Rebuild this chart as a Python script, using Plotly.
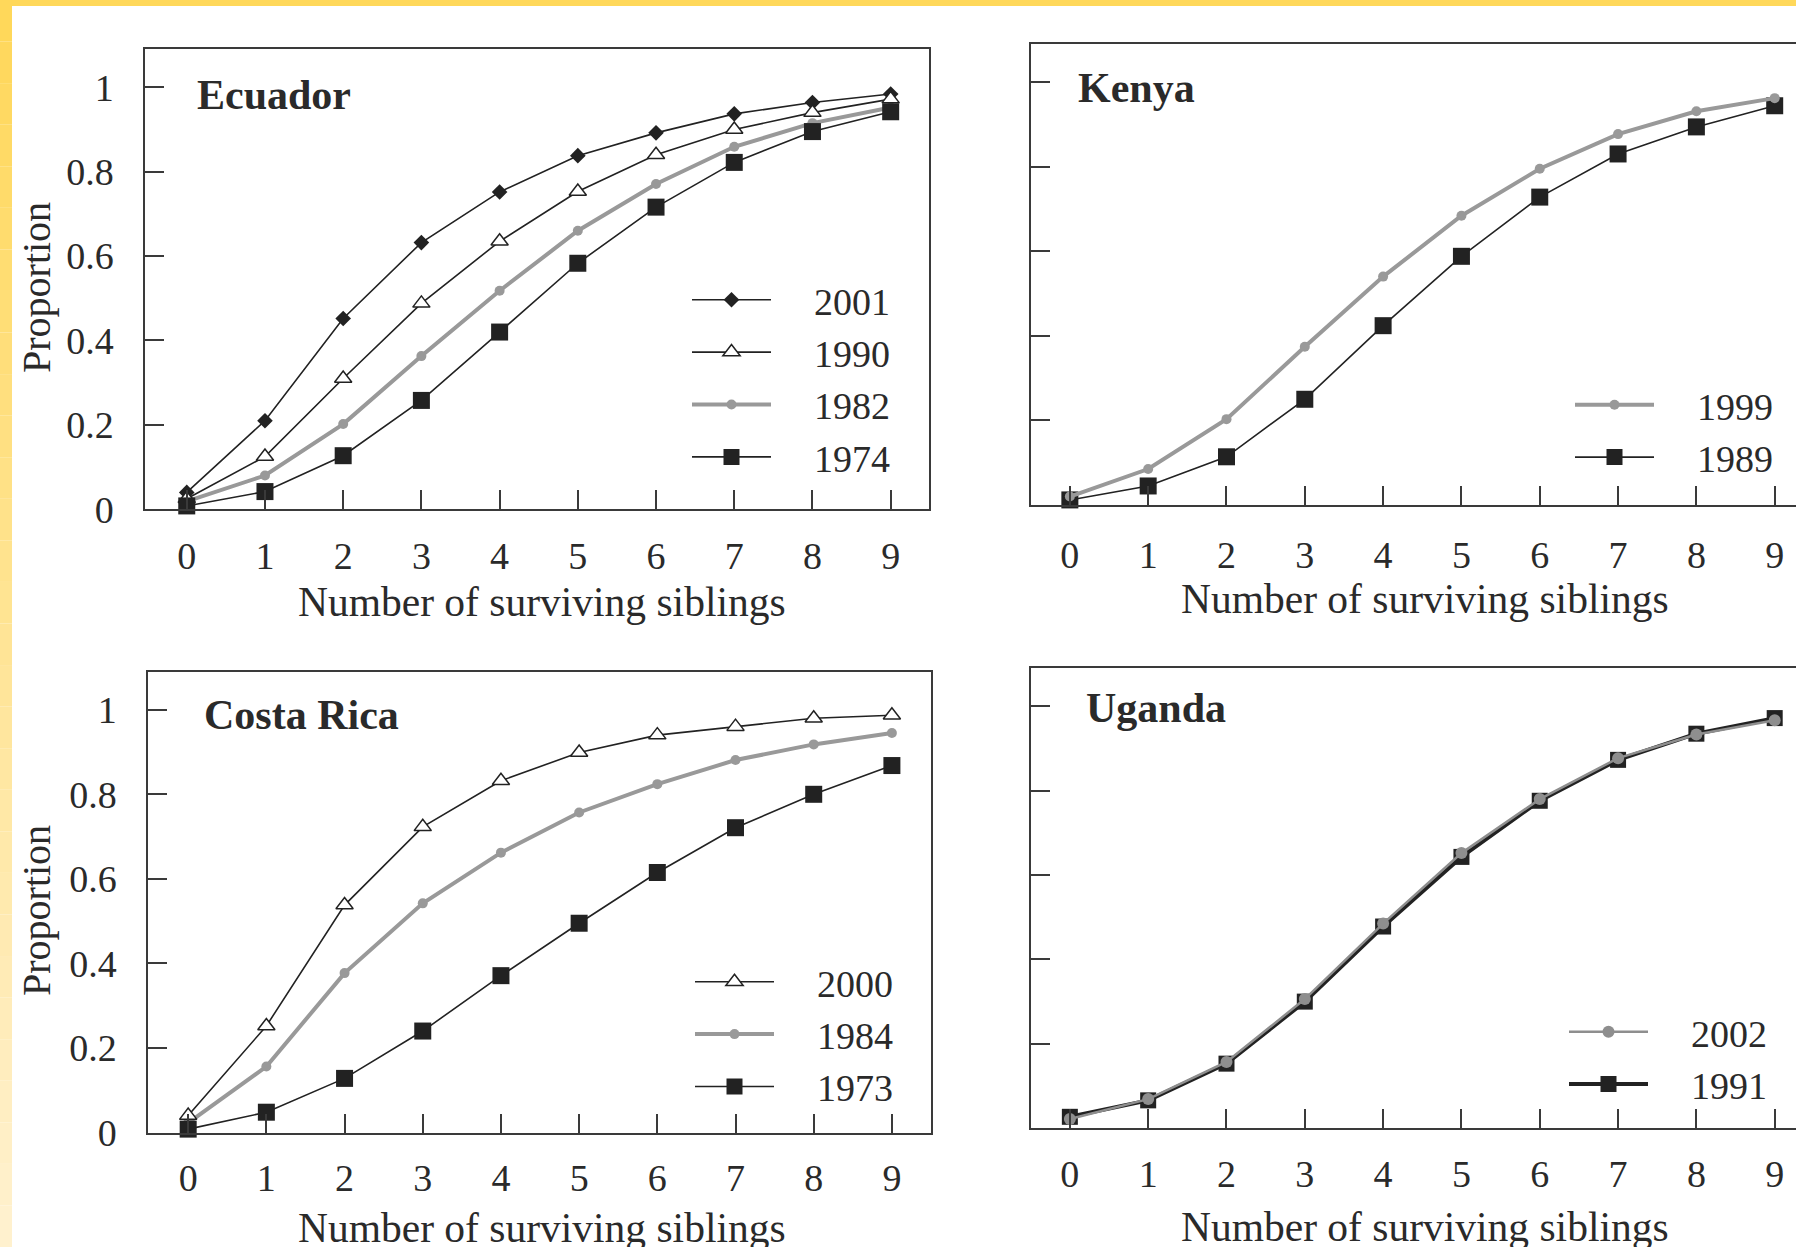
import plotly.graph_objects as go

# ---------------- data ----------------
siblings = [0, 1, 2, 3, 4, 5, 6, 7, 8, 9]
x_tick_labels = ["0", "1", "2", "3", "4", "5", "6", "7", "8", "9"]
y_tick_values = [0, 0.2, 0.4, 0.6, 0.8, 1]
y_tick_labels = ["0", "0.2", "0.4", "0.6", "0.8", "1"]

ecuador_years = ["2001", "1990", "1982", "1974"]
ecuador_2001 = [0.040, 0.210, 0.452, 0.632, 0.752, 0.838, 0.892, 0.937, 0.964, 0.984]
ecuador_1990 = [0.025, 0.125, 0.310, 0.488, 0.635, 0.753, 0.840, 0.900, 0.940, 0.972]
ecuador_1982 = [0.019, 0.080, 0.202, 0.363, 0.518, 0.660, 0.771, 0.859, 0.915, 0.952]
ecuador_1974 = [0.008, 0.042, 0.127, 0.258, 0.420, 0.583, 0.716, 0.822, 0.895, 0.942]

kenya_years = ["1999", "1989"]
kenya_1999 = [0.020, 0.085, 0.203, 0.374, 0.540, 0.684, 0.795, 0.877, 0.931, 0.962]
kenya_1989 = [0.012, 0.045, 0.114, 0.250, 0.424, 0.588, 0.728, 0.830, 0.894, 0.944]

costa_rica_years = ["2000", "1984", "1973"]
costa_rica_2000 = [0.040, 0.252, 0.538, 0.723, 0.832, 0.899, 0.940, 0.960, 0.980, 0.987]
costa_rica_1984 = [0.023, 0.156, 0.377, 0.542, 0.662, 0.757, 0.824, 0.881, 0.918, 0.945]
costa_rica_1973 = [0.008, 0.048, 0.128, 0.240, 0.371, 0.495, 0.615, 0.721, 0.800, 0.868]

uganda_years = ["2002", "1991"]
uganda_2002 = [0.022, 0.069, 0.157, 0.306, 0.485, 0.652, 0.780, 0.877, 0.933, 0.967]
uganda_1991 = [0.027, 0.066, 0.153, 0.300, 0.478, 0.643, 0.776, 0.873, 0.935, 0.972]

panel_titles = ["Ecuador", "Kenya", "Costa Rica", "Uganda"]
x_title = "Number of surviving siblings"
y_title = "Proportion"

# ---------------- styles ----------------
W, H = 1796, 1247
FONT = "Liberation Serif"
TXT = "#2a2a2a"
BLACK = "#222222"
GRAY = "#999999"
AX = "#3a3a3a"
PAD = "\u00a0\u00a0\u00a0\u00a0"

STY = {
    "diamond": dict(line=dict(color=BLACK, width=1.6),
                    marker=dict(symbol="diamond", size=12, color=BLACK)),
    "triangle": dict(line=dict(color=BLACK, width=1.6),
                     marker=dict(symbol="triangle-up", size=15, color="white",
                                 line=dict(color=BLACK, width=1.5))),
    "gray": dict(line=dict(color=GRAY, width=4),
                 marker=dict(symbol="circle", size=10, color=GRAY)),
    "square": dict(line=dict(color=BLACK, width=1.6),
                   marker=dict(symbol="square", size=17, color=BLACK)),
    "ug_gray": dict(line=dict(color="#8e8e8e", width=2.5),
                    marker=dict(symbol="circle", size=12, color="#8e8e8e")),
    "ug_square": dict(line=dict(color=BLACK, width=4),
                      marker=dict(symbol="square", size=16, color=BLACK)),
}

fig = go.Figure()


def add(y, name, style, ax, legend, rank):
    s = STY[style]
    fig.add_trace(go.Scatter(
        x=siblings, y=y, name=PAD + name, mode="lines+markers",
        line=s["line"], marker=s["marker"], cliponaxis=False,
        xaxis="x" + ax, yaxis="y" + ax, legend=legend, legendrank=rank,
    ))


# Ecuador
add(ecuador_1982, ecuador_years[2], "gray", "", "legend", 3)
add(ecuador_2001, ecuador_years[0], "diamond", "", "legend", 1)
add(ecuador_1990, ecuador_years[1], "triangle", "", "legend", 2)
add(ecuador_1974, ecuador_years[3], "square", "", "legend", 4)
# Kenya
add(kenya_1989, kenya_years[1], "square", "2", "legend2", 2)
add(kenya_1999, kenya_years[0], "gray", "2", "legend2", 1)
# Costa Rica
add(costa_rica_1984, costa_rica_years[1], "gray", "3", "legend3", 2)
add(costa_rica_2000, costa_rica_years[0], "triangle", "3", "legend3", 1)
add(costa_rica_1973, costa_rica_years[2], "square", "3", "legend3", 3)
# Uganda
add(uganda_1991, uganda_years[1], "ug_square", "4", "legend4", 2)
add(uganda_2002, uganda_years[0], "ug_gray", "4", "legend4", 1)


def px_x(p):
    return p / W


def px_y(p):
    return 1 - p / H


# panel geometry (pixels): left, right, top, bottom, x-range, tick-label standoff
panels = [
    dict(l=145.3, r=929.0, t=49.3, b=509.3, xr=[-0.53, 9.49], left=True, so=12),
    dict(l=1030.7, r=1796.0, t=44.0, b=505.0, xr=[-0.50, 9.272], left=False, so=15),
    dict(l=148.3, r=931.0, t=671.7, b=1132.5, xr=[-0.51, 9.50], left=True, so=11),
    dict(l=1030.7, r=1796.0, t=668.3, b=1128.2, xr=[-0.50, 9.272], left=False, so=11),
]

axes = {}
for i, p in enumerate(panels):
    suf = "" if i == 0 else str(i + 1)
    axes["xaxis" + suf] = dict(
        domain=[px_x(p["l"]), px_x(p["r"])], range=p["xr"],
        anchor="y" + suf, tickmode="array", tickvals=siblings, ticktext=x_tick_labels,
        ticks="inside", ticklen=19, tickwidth=2, tickcolor=AX,
        showline=True, linecolor=AX, linewidth=2, mirror=True,
        showgrid=False, zeroline=False, automargin=False,
        ticklabelstandoff=p["so"],
        tickfont=dict(family=FONT, size=38, color=TXT),
    )
    axes["yaxis" + suf] = dict(
        domain=[px_y(p["b"]), px_y(p["t"])], range=[0, 1.09],
        anchor="x" + suf, tickmode="array", tickvals=y_tick_values, ticktext=y_tick_labels,
        ticks="inside", ticklen=19, tickwidth=2, tickcolor=AX,
        showline=True, linecolor=AX, linewidth=2, mirror=p["left"],
        showgrid=False, zeroline=False, automargin=False,
        showticklabels=p["left"], ticklabelstandoff=22,
        tickfont=dict(family=FONT, size=38, color=TXT),
    )

annotations = []
# panel titles
title_pos = [(195, 95), (1076, 88), (202, 715), (1084, 708)]
for t, (x, y) in zip(panel_titles, title_pos):
    annotations.append(dict(
        text="<b>%s</b>" % t, x=px_x(x), y=px_y(y), xref="paper", yref="paper",
        xanchor="left", yanchor="middle", showarrow=False,
        font=dict(family=FONT, size=42, color=TXT),
    ))
# x-axis titles
for (x, y) in [(542, 602), (1425, 599), (542, 1228), (1425, 1227)]:
    annotations.append(dict(
        text=x_title, x=px_x(x), y=px_y(y), xref="paper", yref="paper",
        xanchor="center", yanchor="middle", showarrow=False,
        font=dict(family=FONT, size=41.5, color=TXT),
    ))
# y-axis titles
for (x, y) in [(36, 288), (36, 911)]:
    annotations.append(dict(
        text=y_title, x=px_x(x), y=px_y(y), xref="paper", yref="paper",
        xanchor="center", yanchor="middle", showarrow=False, textangle=-90,
        font=dict(family=FONT, size=40, color=TXT),
    ))


# legends (pixel positions of top-left)
def legend_at(x, y):
    return dict(
        x=px_x(x), y=px_y(y), xanchor="left", yanchor="top",
        bgcolor="rgba(0,0,0,0)", borderwidth=0, itemwidth=79,
        font=dict(family=FONT, size=38, color=TXT), traceorder="normal",
        itemclick=False, itemdoubleclick=False,
    )


# decorative yellow frame
shapes = [dict(type="rect", xref="paper", yref="paper", x0=0, x1=1, y0=px_y(6), y1=1,
               fillcolor="rgb(255,216,90)", line=dict(width=0), layer="below")]
n = 30
for k in range(n):
    f = k / (n - 1)
    r, g, b = 255, int(216 + (241 - 216) * f), int(90 + (206 - 90) * f)
    shapes.append(dict(type="rect", xref="paper", yref="paper", x0=0, x1=px_x(12),
                       y0=px_y(H * (k + 1) / n), y1=px_y(H * k / n),
                       fillcolor="rgb(%d,%d,%d)" % (r, g, b), line=dict(width=0), layer="below"))

fig.update_layout(
    width=W, height=H, template="none",
    paper_bgcolor="white", plot_bgcolor="rgba(0,0,0,0)",
    margin=dict(l=0, r=0, t=0, b=0, pad=0, autoexpand=False),
    font=dict(family=FONT, color=TXT),
    legend=legend_at(687, 268.5),
    legend2=legend_at(1570, 373.5),
    legend3=legend_at(690, 950.5),
    legend4=legend_at(1564, 1000.5),
    annotations=annotations, shapes=shapes,
    **axes,
)

fig.write_html("out.html")
